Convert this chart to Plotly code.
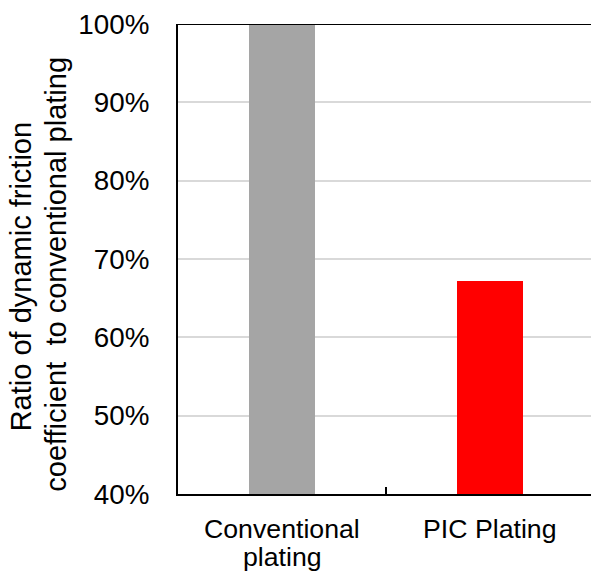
import plotly.graph_objects as go

categories = ["Conventional plating", "PIC Plating"]
x_label_lines = [["Conventional", "plating"], ["PIC Plating"]]
values = [1.00, 0.672]
colors = ["#a5a5a5", "#ff0000"]
y_ticks = [0.4, 0.5, 0.6, 0.7, 0.8, 0.9, 1.0]
y_title_lines = ["Ratio of dynamic friction", "coefficient  to conventional plating"]

FONT = "Liberation Sans, Arial, sans-serif"

fig = go.Figure(go.Bar(
    x=categories, y=values, marker=dict(color=colors, line=dict(width=0)),
    width=0.32,
))

fig.update_layout(
    width=591, height=572,
    margin=dict(l=178, r=0, t=24, b=78),
    paper_bgcolor="white", plot_bgcolor="white",
    font=dict(family=FONT, size=27, color="#000"),
    showlegend=False,
    bargap=0,
)
fig.update_xaxes(
    type="category", range=[-0.5, 1.485], automargin=False,
    showline=True, linecolor="#000", linewidth=2,
    ticks="inside", tickson="boundaries", ticklen=7, tickwidth=1.5, tickcolor="#000",
    showgrid=False, showticklabels=False,
)
fig.update_yaxes(
    range=[0.4, 1.0], tickvals=y_ticks, tickformat=".0%", automargin=False,
    showline=True, linecolor="#000", linewidth=2,
    showgrid=True, gridcolor="#d9d9d9", gridwidth=1.5,
    ticks="", ticklabelstandoff=21, zeroline=False,
    tickfont=dict(size=27.8),
)
# top border line at 100%
fig.add_shape(type="line", xref="paper", yref="y", x0=0, x1=1, y0=1.0, y1=1.0,
              line=dict(color="#000", width=2))

# category labels (multi-line, tight spacing)
for cat, lines in zip(categories, x_label_lines):
    for i, line in enumerate(lines):
        fig.add_annotation(
            text=line, xref="x", yref="paper", x=cat, y=0,
            xanchor="center", yanchor="middle", yshift=-34.5 - 28 * i,
            showarrow=False, font=dict(size=26.7),
        )

# y-axis title, two rotated lines
title_x = [-157, -122]
title_y = [0.461, 0.4665]
for line, dx, yy in zip(y_title_lines, title_x, title_y):
    fig.add_annotation(
        text=line, textangle=-90, xref="paper", yref="paper", x=0, y=yy,
        xanchor="center", yanchor="middle", xshift=dx,
        showarrow=False, font=dict(size=29),
    )

fig.write_html("out.html", config={"displayModeBar": False},
               post_script="document.body.style.margin='0';")
